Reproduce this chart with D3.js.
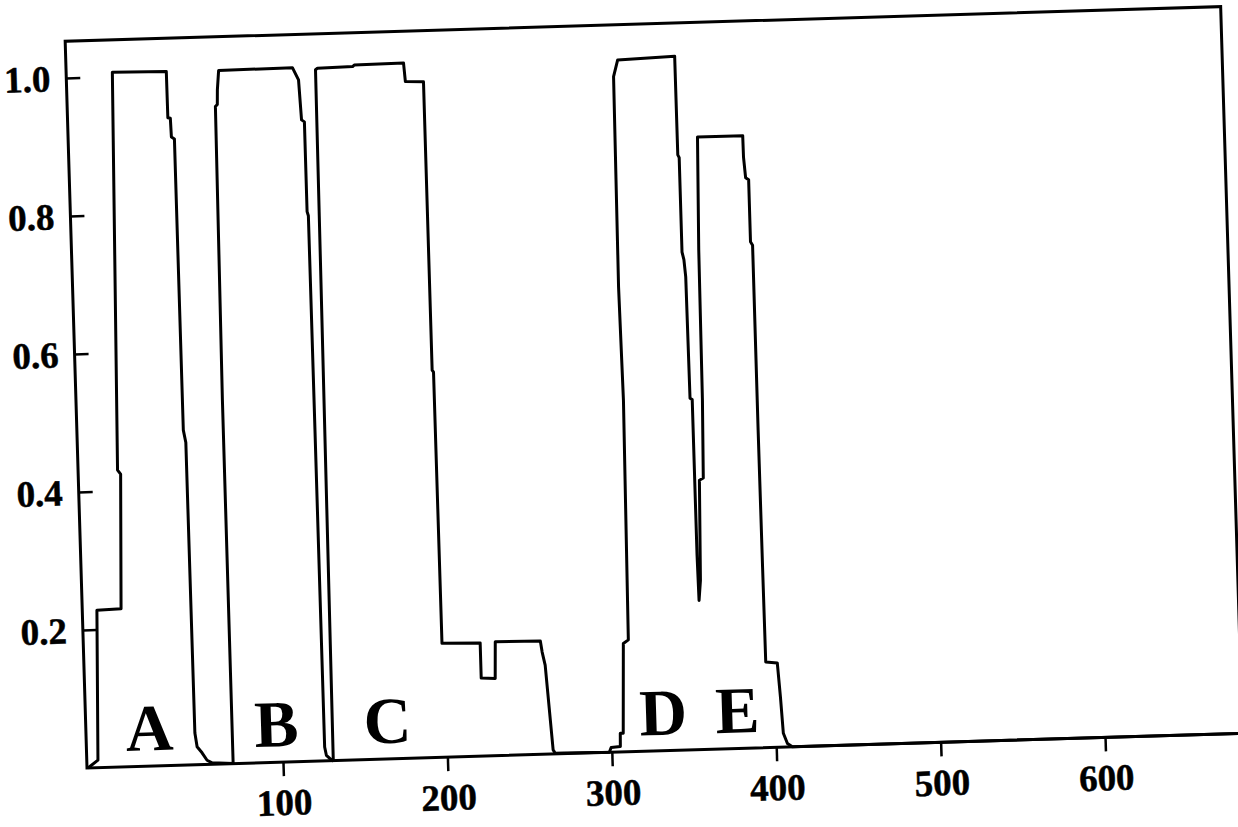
<!DOCTYPE html>
<html><head><meta charset="utf-8">
<script src="https://cdn.jsdelivr.net/npm/d3@7"></script>
<style>html,body{margin:0;padding:0;background:#fff;} svg{display:block;}</style>
</head><body>
<svg id="chart" width="1238" height="827"></svg>
<script>
// ---- data ----
const peakA = [[-18.6,0],[-12.4,0.011],[-10.3,0.228],[4.4,0.229],[6.6,0.424],[4.8,0.430],[8.9,1.006],[41.7,1.005],[41.8,0.938],[43.3,0.937],[43.6,0.910],[45.4,0.907],[45.5,0.485],[46.8,0.467],[47.0,0.046],[48.1,0.026],[51.0,0.017],[53.9,0.006],[56.9,0.002]];
const peakB = [[69.7,0],[69.8,0.527],[70.9,0.952],[72.1,0.955],[72.4,0.976],[73.5,1.004],[118.4,1.005],[121.9,0.987],[123.0,0.929],[124.7,0.926],[124.7,0.796],[125.4,0.790],[125.5,0.480],[125.6,0.020],[126.5,0.008],[130.0,0]];
const peakC = [[130.6,0],[132.4,1.001],[133.6,1.003],[155.0,1.004],[156.0,1.006],[186.0,1.007],[186.8,0.980],[197.8,0.979],[197.8,0.561],[198.6,0.558],[198.8,0.165],[222.0,0.164],[222.0,0.113],[230.5,0.112],[231.2,0.165],[258.6,0.164],[259.5,0.148],[261.1,0.129],[264.4,0.006],[265.6,0.001],[271.0,0.001]];
const peakD = [[298.5,0],[299.7,0.007],[305.3,0.008],[305.5,0.027],[307.3,0.027],[309.0,0.157],[312.1,0.162],[313.5,0.509],[312.6,0.673],[313.4,0.978],[316.2,1.002],[350.9,1.005],[351.0,0.862],[351.8,0.858],[351.8,0.721],[352.8,0.710],[353.6,0.685],[354.0,0.509],[355.3,0.507],[355.4,0.282],[355.8,0.216]];
const peakE = [[357.0,0.245],[358.2,0.390],[360.6,0.393],[361.5,0.506],[362.0,0.723],[363.3,0.887],[390.8,0.887],[390.9,0.856],[391.8,0.826],[393.6,0.823],[393.6,0.733],[394.8,0.728],[394.8,0.460],[395.0,0.261],[395.2,0.124],[402.2,0.122],[403.5,0.072],[404.6,0.020],[406.9,0.005],[409.8,0]];
const tail = [[683.6,0]];
const xTicks = [100,200,300,400,500,600];
const yTicks = [0.2,0.4,0.6,0.8,1.0];
const peakLabels = ["A","B","C","D","E"];
const peakLabelX = [19.4,96.7,164.2,332,377];
const peakLabelY = 0.023;
const xDomain = [-19.2, 683.6];
const yDomain = [0, 1.053];

// ---- layout ----
const W = 1156, H = 727;
const FONT = "'Liberation Serif','Times New Roman',serif";
const svg = d3.select("#chart");
svg.append("rect").attr("width",1238).attr("height",827).attr("fill","#fff");
const g = svg.append("g").attr("transform", `translate(87,768) rotate(-1.72) translate(0,${-H})`);

const x = d3.scaleLinear().domain(xDomain).range([0, W]);
const y = d3.scaleLinear().domain(yDomain).range([H, 0]);

// x axis
const gx = g.append("g").attr("transform", `translate(0,${H})`)
  .call(d3.axisBottom(x).tickValues(xTicks).tickSize(14).tickFormat(d3.format("d")));
gx.select(".domain").remove();
gx.selectAll(".tick line").attr("stroke","#000").attr("stroke-width",2.5);
gx.selectAll(".tick text").attr("y",53).attr("dy",0)
  .attr("font-family",FONT).attr("font-weight","bold").attr("font-size",37).attr("fill","#000")
  .attr("stroke","#000").attr("stroke-width",0.5);

// y axis
const gy = g.append("g")
  .call(d3.axisLeft(y).tickValues(yTicks).tickSize(-14).tickPadding(16).tickFormat(d3.format(".1f")));
gy.select(".domain").remove();
gy.selectAll(".tick line").attr("stroke","#000").attr("stroke-width",2.5);
gy.selectAll(".tick text").attr("dy","0.34em")
  .attr("font-family",FONT).attr("font-weight","bold").attr("font-size",37).attr("fill","#000")
  .attr("stroke","#000").attr("stroke-width",0.5);

// frame
g.append("rect").attr("x",0).attr("y",0).attr("width",W).attr("height",H)
  .attr("fill","none").attr("stroke","#000").attr("stroke-width",3);

// trace
const trace = [...peakA, ...peakB, ...peakC, ...peakD, ...peakE, ...tail];
const line = d3.line().x(d => x(d[0])).y(d => y(d[1]));
g.append("path").datum(trace).attr("d", line)
  .attr("fill","none").attr("stroke","#000").attr("stroke-width",3).attr("stroke-linejoin","round");

// peak letters
g.selectAll("text.peak").data(peakLabels).join("text").attr("class","peak")
  .attr("x",(d,i)=>x(peakLabelX[i])).attr("y",y(peakLabelY))
  .attr("text-anchor","middle")
  .attr("font-family",FONT).attr("font-weight","bold").attr("font-size",66).attr("fill","#000")
  .text(d=>d);
</script>
</body></html>
